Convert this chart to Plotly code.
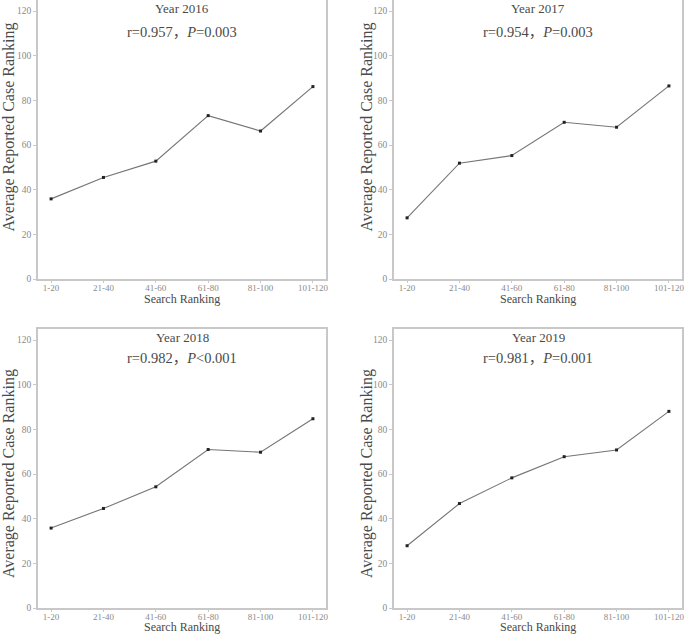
import plotly.graph_objects as go
from plotly.subplots import make_subplots

# Search ranking groups shared by all four panels
GROUPS = ['1-20', '21-40', '41-60', '61-80', '81-100', '101-120']

YEARS = ['2016', '2017', '2018', '2019']
STATS = ['r=0.957，<i>P</i>=0.003', 'r=0.954，<i>P</i>=0.003',
         'r=0.982，<i>P</i><0.001', 'r=0.981，<i>P</i>=0.001']

avg_2016 = [35.9, 45.5, 52.8, 73.2, 66.3, 86.2]
avg_2017 = [27.4, 51.9, 55.3, 70.2, 68.0, 86.5]
avg_2018 = [35.8, 44.6, 54.3, 71.0, 69.8, 84.8]
avg_2019 = [27.9, 46.8, 58.3, 67.8, 70.8, 88.1]
SERIES = [avg_2016, avg_2017, avg_2018, avg_2019]

FONT = 'Liberation Serif, Noto Sans CJK SC'
SPINE = '#c8c8c8'
TICK = '#8a8a8a'
TEXT = '#4a4a4a'

fig = make_subplots(rows=2, cols=2)

# panel boxes measured off the page in pixels
W, H = 685, 634
x_px = [(38, 326), (394, 682)]
y_px = [(0, 279), (329, 608)]
# per-row text offsets (px from panel top / bottom)
year_dy = [8.5, 8.5]
stat_dy = [32, 29]
ytitle_pos = [0.543, 0.48]
xtitle_dy = [20.5, 18.5]

for i, vals in enumerate(SERIES):
    row, col = i // 2 + 1, i % 2 + 1
    fig.add_trace(go.Scatter(
        x=list(range(len(GROUPS))), y=vals, mode='lines+markers',
        line=dict(color='#757575', width=1.1),
        marker=dict(symbol='square', size=3, color='#222222'),
        showlegend=False, hoverinfo='y'
    ), row=row, col=col)

    n = '' if i == 0 else str(i + 1)
    x0, x1 = x_px[col - 1]
    y0, y1 = y_px[row - 1]
    fig.layout['xaxis' + n].update(domain=[x0 / W, x1 / W])
    fig.layout['yaxis' + n].update(domain=[1 - y1 / H, 1 - y0 / H])

    fig.update_xaxes(
        range=[-0.25, len(GROUPS) - 0.75],
        tickvals=list(range(len(GROUPS))), ticktext=GROUPS,
        showgrid=False, zeroline=False, automargin=False,
        ticklabeloverflow='allow', ticklabelstandoff=-3,
        showline=True, linecolor=SPINE, linewidth=1.5, mirror=True,
        ticks='outside', ticklen=2, tickcolor=SPINE,
        tickfont=dict(family=FONT, size=9, color=TICK),
        row=row, col=col)
    fig.update_yaxes(
        range=[0, 125], tickvals=[0, 20, 40, 60, 80, 100, 120],
        showgrid=False, zeroline=False, automargin=False,
        ticklabeloverflow='allow',
        showline=True, linecolor=SPINE, linewidth=1.5, mirror=True,
        ticks='outside', ticklen=3, tickcolor=SPINE,
        tickfont=dict(family=FONT, size=9.5, color=TICK),
        row=row, col=col)

    xref = 'x' + n + ' domain'
    yref = 'y' + n + ' domain'
    ph = y1 - y0
    r = row - 1
    fig.add_annotation(text='Year ' + YEARS[i], xref=xref, yref=yref,
                       x=0.5, y=1 - year_dy[r] / ph, yanchor='middle',
                       showarrow=False,
                       font=dict(family=FONT, size=13, color=TEXT))
    fig.add_annotation(text=STATS[i], xref=xref, yref=yref,
                       x=0.5, y=1 - stat_dy[r] / ph, yanchor='middle',
                       showarrow=False,
                       font=dict(family=FONT, size=14.5, color=TEXT))
    # axis titles
    fig.add_annotation(text='Search Ranking', xref=xref, yref=yref,
                       x=0.5, y=-xtitle_dy[r] / ph, yanchor='middle',
                       showarrow=False,
                       font=dict(family=FONT, size=12, color=TEXT))
    fig.add_annotation(text='Average Reported Case Ranking',
                       xref=xref, yref=yref,
                       x=-(29 if col == 1 else 27) / (x1 - x0),
                       y=ytitle_pos[r],
                       xanchor='center', yanchor='middle', textangle=-90,
                       showarrow=False,
                       font=dict(family=FONT, size=16, color=TEXT))

fig.update_layout(
    width=W, height=H,
    margin=dict(l=0, r=0, t=0, b=0),
    paper_bgcolor='white', plot_bgcolor='white'
)

# drop the page's default body margin so the figure sits at the corner
fig.write_html('out.html', config={'displayModeBar': False},
               post_script="document.body.style.margin='0';")
